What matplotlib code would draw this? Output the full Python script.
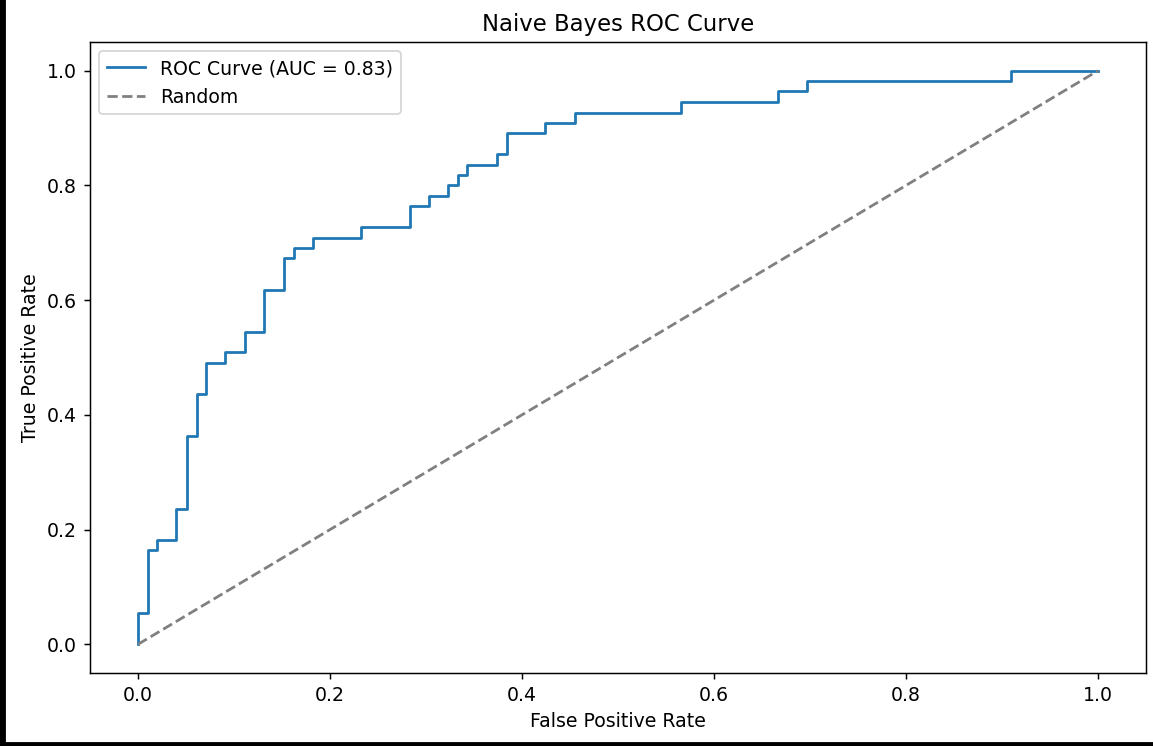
import matplotlib
matplotlib.use("Agg")
import matplotlib.pyplot as plt
from matplotlib.patches import Rectangle

# ROC curve corner points
fpr = [0.0, 0.0, 0.010, 0.010, 0.020, 0.020, 0.040, 0.040, 0.051, 0.051,
       0.061, 0.061, 0.071, 0.071, 0.091, 0.091, 0.111, 0.111, 0.131, 0.131,
       0.152, 0.152, 0.162, 0.162, 0.182, 0.182, 0.232, 0.232, 0.283, 0.283,
       0.303, 0.303, 0.323, 0.323, 0.333, 0.333, 0.343, 0.343, 0.374, 0.374,
       0.384, 0.384, 0.424, 0.424, 0.455, 0.455, 0.566, 0.566, 0.667, 0.667,
       0.697, 0.697, 0.909, 0.909, 1.0]
tpr = [0.0, 0.055, 0.055, 0.164, 0.164, 0.182, 0.182, 0.236, 0.236, 0.364,
       0.364, 0.436, 0.436, 0.491, 0.491, 0.509, 0.509, 0.545, 0.545, 0.618,
       0.618, 0.673, 0.673, 0.691, 0.691, 0.709, 0.709, 0.727, 0.727, 0.764,
       0.764, 0.782, 0.782, 0.800, 0.800, 0.818, 0.818, 0.836, 0.836, 0.855,
       0.855, 0.891, 0.891, 0.909, 0.909, 0.927, 0.927, 0.945, 0.945, 0.964,
       0.964, 0.982, 0.982, 1.0, 1.0]
auc_value = 0.83
random_x = [0, 1]
random_y = [0, 1]

plt.rcParams['font.size'] = 10.25

W, H, DPI = 1153, 746, 133
fig = plt.figure(figsize=(W / DPI, H / DPI), dpi=DPI)
ax = fig.add_axes([90 / W, 1 - 673 / H, (1146 - 90) / W, (673 - 42) / H])

ax.plot(fpr, tpr, label=f"ROC Curve (AUC = {auc_value:.2f})")
ax.plot(random_x, random_y, linestyle="--", color="gray", label="Random")
ax.set_xlabel("False Positive Rate")
ax.set_ylabel("True Positive Rate")
ax.set_title("Naive Bayes ROC Curve")
ax.legend(loc="upper left")

# screenshot border strips
fig.patches.append(Rectangle((0, 0), 5 / W, 1, transform=fig.transFigure,
                             color="black", zorder=10))
fig.patches.append(Rectangle((0, 0), 1, 3 / H, transform=fig.transFigure,
                             color="black", zorder=10))

fig.savefig("out.png", dpi=DPI)
